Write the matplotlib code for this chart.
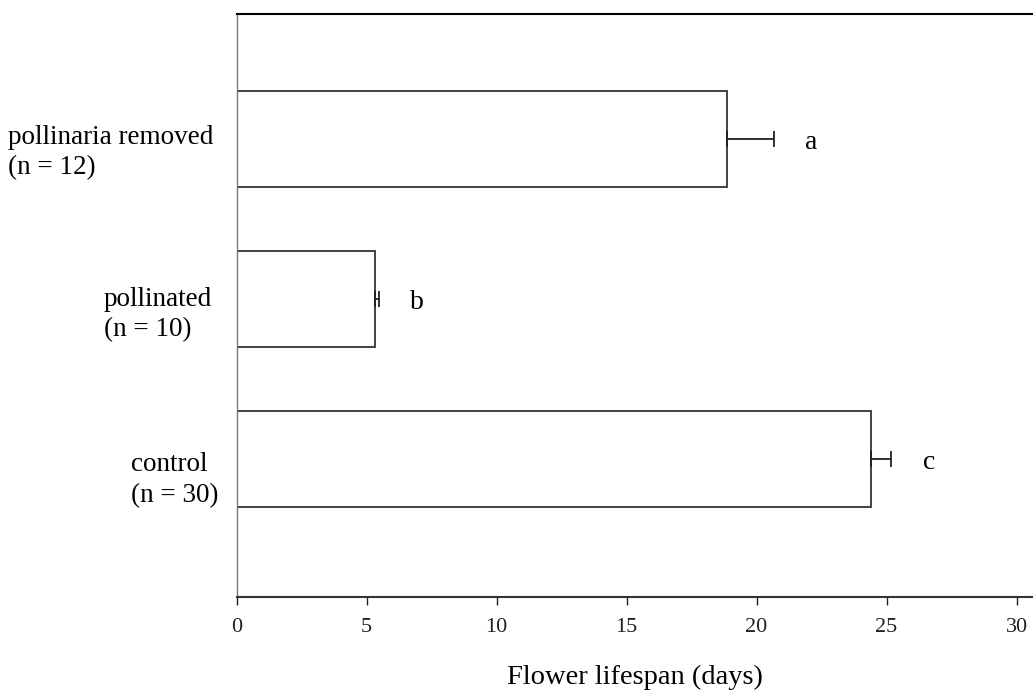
import numpy as np
import matplotlib
matplotlib.use('Agg')
import matplotlib.pyplot as plt
import matplotlib.transforms as mtransforms

plt.rcParams['font.family'] = ['Liberation Serif', 'DejaVu Serif']

# data (bottom to top)
groups = ['control\n(n = 30)', 'pollinated\n(n = 10)', 'pollinaria removed\n(n = 12)']
lifespan = [24.4, 5.33, 18.86]
err = [0.78, 0.15, 1.8]
letters = ['c', 'b', 'a']
xticks = [0, 5, 10, 15, 20, 25, 30]

# where each label block starts (figure fraction) - the original is not aligned
label_x = [131 / 1033, 104 / 1033, 8 / 1033]
label_dy = [-0.13, -0.097, -0.085]

fig = plt.figure(figsize=(10.33, 6.95), dpi=100)
ax = fig.add_axes([0.229, 0.141, 0.771, 0.839])

ypos = np.arange(len(groups))
ax.barh(ypos, lifespan, height=0.6, color='white', edgecolor='#333333', linewidth=1.3)
ax.errorbar(lifespan, ypos, xerr=[np.zeros(len(err)), err], fmt='none',
            ecolor='#222222', elinewidth=1.3, capsize=5.5, capthick=1.3)

for i in range(len(groups)):
    ax.text(lifespan[i] + err[i] + 1.45, ypos[i] - 0.02, letters[i], fontsize=20,
            ha='center', va='center')

trans = mtransforms.blended_transform_factory(fig.transFigure, ax.transData)
for i in range(len(groups)):
    ax.text(label_x[i], ypos[i] + label_dy[i], groups[i], transform=trans,
            fontsize=19.5, ha='left', va='center', multialignment='left',
            linespacing=1.3)

ax.set_xlim(0, 30.63)
ax.set_ylim(-0.86, 2.78)
ax.set_xticks(xticks)
ax.set_xticklabels([str(t) for t in xticks], fontsize=16)
ax.set_yticks([])
ax.tick_params(axis='x', direction='out', length=6, width=1, pad=9, colors='#222222')

ax.spines['right'].set_visible(False)
ax.spines['left'].set_color('#777777')
ax.spines['left'].set_linewidth(1.0)
ax.spines['top'].set_linewidth(1.5)
ax.spines['bottom'].set_linewidth(1.5)
ax.spines['bottom'].set_color('#333333')

ax.set_xlabel('Flower lifespan (days)', fontsize=20.5, labelpad=20)

fig.savefig('out.png', dpi=100)
